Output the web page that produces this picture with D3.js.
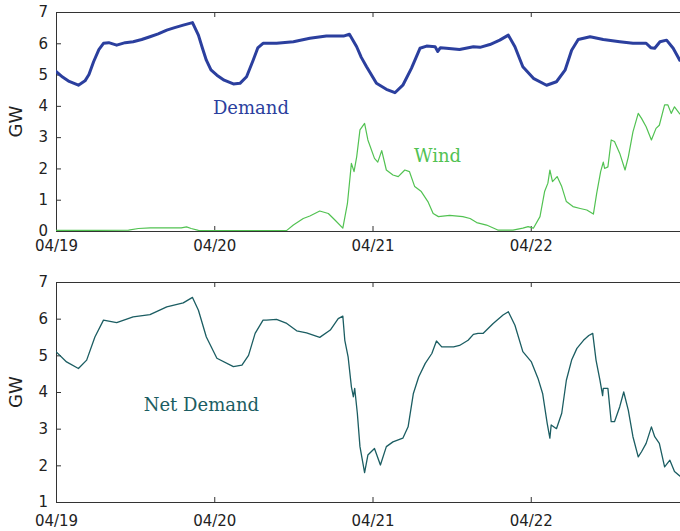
<!DOCTYPE html>
<html>
<head>
<meta charset="utf-8">
<script src="https://cdn.jsdelivr.net/npm/d3@7"></script>
<style>
  html, body { margin: 0; padding: 0; background: #fff; }
  svg { display: block; }
  .axis text { font-family: "DejaVu Sans", sans-serif; font-size: 15px; fill: #222; }
  .axis path, .axis line { stroke: #333; }
</style>
</head>
<body>
<svg id="chart" width="680" height="531"></svg>
<script>
// Hours since 04/19 00:00 and GW values for each series
const demand = [
  [0,5.10],[1.0,4.92],[2.0,4.78],[3.4,4.66],[4.4,4.80],[5.0,5.00],[5.7,5.41],[6.5,5.80],
  [7.2,6.00],[8.0,6.02],[9.2,5.94],[10.5,6.02],[11.7,6.05],[13.0,6.12],[14.25,6.21],
  [15.5,6.30],[16.8,6.42],[18.0,6.50],[19.3,6.58],[20.7,6.66],[21.6,6.26],[22.2,5.85],
  [22.8,5.46],[23.5,5.15],[24.4,4.98],[25.5,4.82],[26.9,4.70],[27.9,4.72],[28.9,4.93],
  [29.9,5.46],[30.6,5.85],[31.4,6.00],[33.45,6.00],[36.0,6.05],[38.5,6.16],[41.0,6.23],
  [43.6,6.23],[44.5,6.29],[45.6,5.89],[46.3,5.55],[47.1,5.25],[48.6,4.72],[50.1,4.53],
  [51.4,4.42],[52.6,4.66],[53.9,5.20],[55.2,5.84],[56.2,5.91],[57.5,5.89],[57.9,5.74],
  [58.3,5.86],[59.2,5.84],[61.2,5.80],[63.3,5.89],[64.3,5.87],[65.8,5.96],[67.3,6.10],
  [68.6,6.26],[69.6,5.89],[70.8,5.25],[72.4,4.88],[74.4,4.66],[75.9,4.77],[77.2,5.14],
  [78.2,5.78],[79.2,6.12],[81.0,6.21],[83.0,6.12],[85.5,6.05],[87.5,6.00],[89.5,6.00],
  [90.2,5.86],[90.8,5.84],[91.6,6.05],[92.6,6.10],[93.6,5.84],[94.6,5.46]
];

const wind = [
  [0,0.02],[6,0.02],[11,0.03],[12.5,0.08],[14.3,0.10],[17,0.10],[19.0,0.10],[19.8,0.13],
  [20.5,0.08],[21.6,0.02],[30,0.01],[35,0.02],[36,0.19],[37.5,0.40],[38.5,0.48],[40,0.64],
  [41.3,0.56],[42.3,0.35],[43.5,0.09],[44.2,0.88],[44.8,2.16],[45.2,1.90],[45.6,2.37],
  [46.1,3.23],[46.8,3.44],[47.3,2.91],[48.3,2.32],[48.8,2.20],[49.4,2.57],[50.1,1.95],
  [51.1,1.79],[51.9,1.74],[52.9,1.95],[53.6,1.90],[54.4,1.42],[55.4,1.26],[56.4,0.94],
  [57.2,0.56],[58.0,0.46],[59.7,0.50],[61.7,0.46],[62.8,0.40],[63.8,0.27],[65.3,0.19],
  [67.0,0.03],[69.3,0.03],[70.8,0.09],[71.6,0.14],[72.4,0.09],[73.4,0.46],[74.1,1.26],
  [74.6,1.53],[74.9,1.95],[75.3,1.58],[76.0,1.74],[76.7,1.42],[77.4,0.94],[78.4,0.78],
  [79.5,0.72],[80.5,0.67],[81.5,0.54],[82.0,1.20],[82.6,1.90],[83.0,2.20],[83.2,2.00],
  [83.7,2.05],[84.2,2.91],[84.7,2.86],[85.5,2.48],[86.3,1.95],[86.8,2.37],[87.5,3.17],
  [88.3,3.76],[88.8,3.60],[89.5,3.33],[90.3,2.91],[91.0,3.28],[91.5,3.38],[92.3,4.03],
  [92.8,4.03],[93.3,3.76],[93.8,3.97],[94.6,3.74]
];

const netDemand = [
  [0,5.10],[1.6,4.82],[3.4,4.64],[4.65,4.87],[5.9,5.50],[7.2,5.96],[9.2,5.89],[11.7,6.05],
  [14.25,6.11],[16.8,6.32],[19.3,6.43],[20.7,6.58],[21.6,6.23],[22.8,5.50],[24.4,4.92],
  [26.9,4.69],[28.2,4.73],[29.2,5.00],[30.2,5.60],[31.4,5.96],[31.9,5.96],[33.45,5.98],
  [35.0,5.87],[36.5,5.67],[38.0,5.61],[40.0,5.49],[41.6,5.69],[42.8,6.00],[43.5,6.07],
  [43.8,5.41],[44.3,4.96],[44.8,4.14],[45.1,3.87],[45.3,4.10],[45.7,3.42],[46.1,2.51],
  [46.8,1.80],[47.3,2.28],[48.3,2.46],[49.2,2.01],[50.1,2.51],[51.1,2.64],[52.6,2.74],
  [53.4,3.05],[54.2,3.96],[55.0,4.41],[56.0,4.78],[57.0,5.05],[57.7,5.39],[58.5,5.23],
  [60.3,5.23],[61.2,5.27],[62.5,5.41],[63.3,5.57],[64.0,5.60],[64.8,5.60],[66.3,5.87],
  [67.8,6.10],[68.6,6.19],[69.6,5.82],[70.8,5.10],[72.1,4.82],[73.1,4.37],[73.8,3.96],
  [74.5,3.14],[74.9,2.74],[75.1,3.10],[75.9,3.00],[76.7,3.42],[77.4,4.32],[78.2,4.87],
  [79.0,5.19],[80.0,5.41],[80.8,5.54],[81.4,5.60],[81.9,4.87],[82.5,4.32],[82.9,3.90],
  [83.0,4.10],[83.7,4.10],[84.2,3.19],[84.7,3.19],[85.5,3.60],[86.1,4.00],[86.8,3.50],
  [87.5,2.78],[88.3,2.23],[88.8,2.37],[89.5,2.60],[90.3,3.05],[90.8,2.78],[91.5,2.60],
  [92.3,1.96],[93.1,2.14],[93.8,1.83],[94.6,1.71]
];

const startDate = new Date(2013, 3, 19);          // 04/19 00:00
const endDate = new Date(2013, 3, 23);            // 04/23 00:00
const dayTicks = [new Date(2013,3,19), new Date(2013,3,20), new Date(2013,3,21), new Date(2013,3,22)];
const topTicks = [0, 1, 2, 3, 4, 5, 6, 7];
const bottomTicks = [1, 2, 3, 4, 5, 6, 7];

const colors = { demand: "#2b3f9e", wind: "#52c252", net: "#1b5d62" };
const toDate = h => new Date(startDate.getTime() + h * 3600 * 1000);

const svg = d3.select("#chart");
const left = 56, right = 689;

const x = d3.scaleTime().domain([startDate, endDate]).range([left, right]);
const fmt = d3.timeFormat("%m/%d");

function panel(id, yTop, yBottom, yDomain, yTickVals, labelPad) {
  const y = d3.scaleLinear().domain(yDomain).range([yBottom, yTop]);
  const g = svg.append("g");

  g.append("clipPath").attr("id", id)
    .append("rect").attr("x", left).attr("y", yTop)
    .attr("width", right - left).attr("height", yBottom - yTop);

  // axes with inward ticks
  g.append("g").attr("class", "axis").attr("transform", `translate(0,${yBottom})`)
    .call(d3.axisBottom(x).tickValues(dayTicks).tickFormat(fmt).tickSizeInner(-5).tickSizeOuter(0).tickPadding(labelPad));
  g.append("g").attr("class", "axis").attr("transform", `translate(0,${yTop})`)
    .call(d3.axisTop(x).tickValues(dayTicks).tickFormat("").tickSizeInner(-5).tickSizeOuter(0));
  g.append("g").attr("class", "axis").attr("transform", `translate(${left},0)`)
    .call(d3.axisLeft(y).tickValues(yTickVals).tickFormat(d3.format("d")).tickSizeInner(-5).tickSizeOuter(0).tickPadding(8));
  g.append("g").attr("class", "axis").attr("transform", `translate(${right},0)`)
    .call(d3.axisRight(y).tickValues(yTickVals).tickFormat("").tickSizeInner(-5).tickSizeOuter(0));

  g.append("text")
    .attr("transform", `translate(22,${(yTop + yBottom) / 2}) rotate(-90)`)
    .attr("text-anchor", "middle")
    .style("font-family", "'DejaVu Sans', sans-serif")
    .style("font-size", "18px").style("fill", "#222")
    .text("GW");

  const plot = g.append("g").attr("clip-path", `url(#${id})`);
  return { y, plot, g };
}

function drawLine(p, data, color, width) {
  const line = d3.line().x(d => x(toDate(d[0]))).y(d => p.y(d[1]));
  p.plot.append("path").datum(data)
    .attr("d", line).attr("fill", "none")
    .attr("stroke", color).attr("stroke-width", width)
    .attr("stroke-linejoin", "round").attr("stroke-linecap", "round");
}

function label(p, text, hx, v, color) {
  p.g.append("text").attr("x", x(toDate(hx))).attr("y", p.y(v))
    .style("font-family", "'DejaVu Serif', serif").style("font-size", "18px")
    .style("fill", color).text(text);
}

const topPanel = panel("clipTop", 12, 231, [0, 7], topTicks, 9);
drawLine(topPanel, wind, colors.wind, 1.2);
drawLine(topPanel, demand, colors.demand, 3);
label(topPanel, "Demand", 23.8, 3.75, colors.demand);
label(topPanel, "Wind", 54.3, 2.21, colors.wind);

const bottomPanel = panel("clipBottom", 282, 502, [1, 7], bottomTicks, 13);
drawLine(bottomPanel, netDemand, colors.net, 1.3);
label(bottomPanel, "Net Demand", 13.3, 3.48, colors.net);
</script>
</body>
</html>
